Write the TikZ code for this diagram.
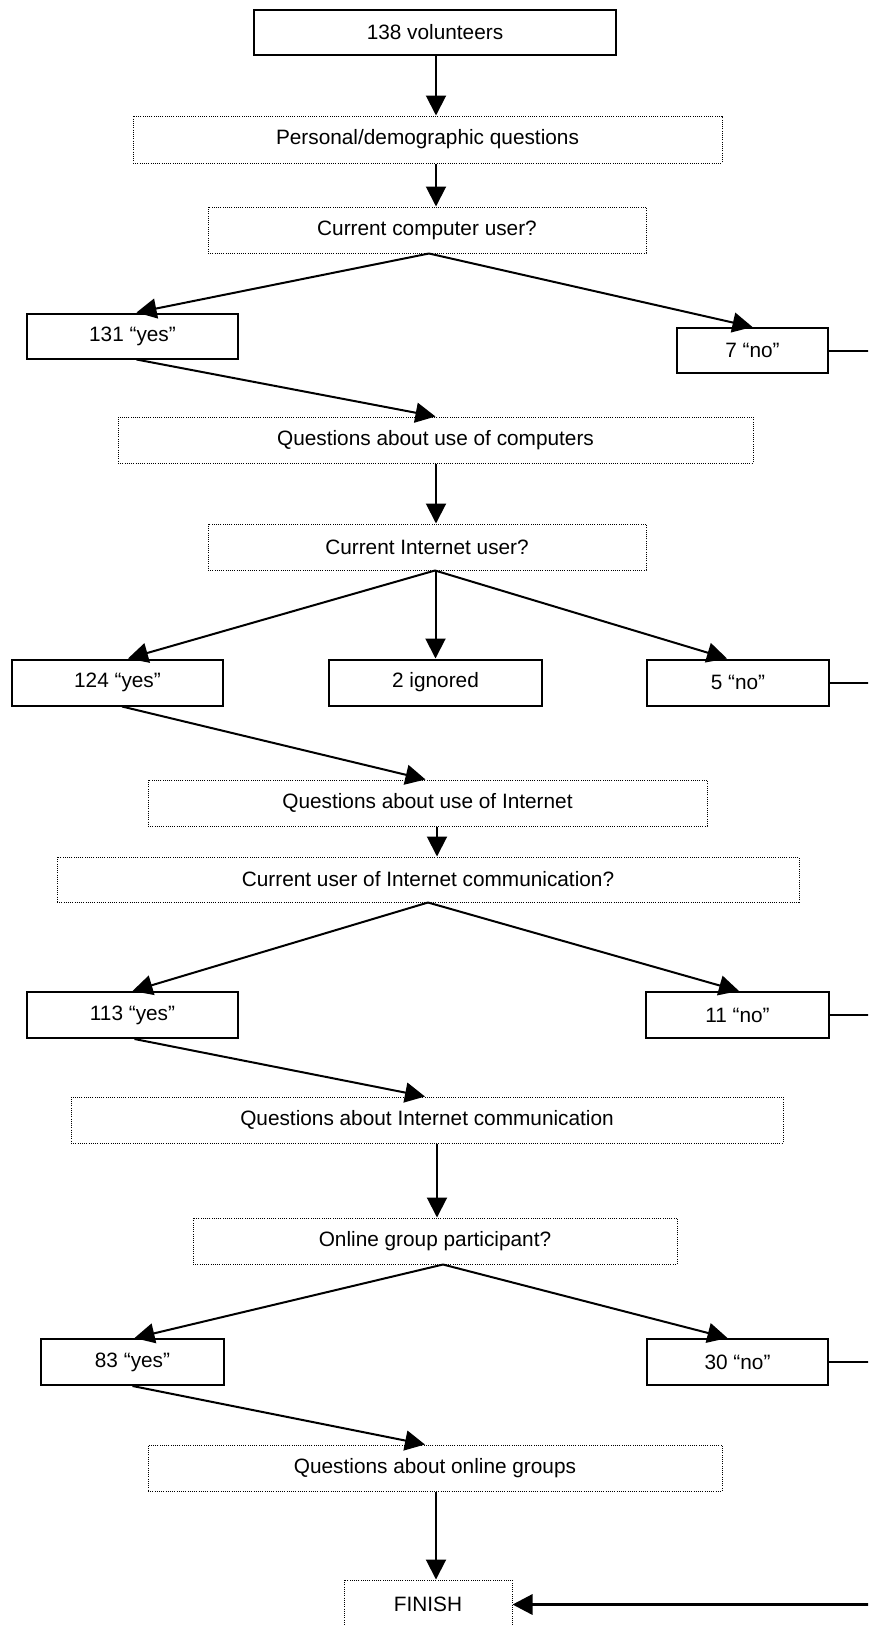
\documentclass[tikz,border=0pt]{standalone}
\usepackage{fontspec}
\setmainfont{Liberation Sans}
\usetikzlibrary{arrows.meta}
\begin{document}
\begin{tikzpicture}[x=1pt,y=-1pt,
  font=\fontsize{20.8}{25}\selectfont,
  sbox/.style={draw, line width=2pt, inner sep=0pt, minimum height=45pt},
  dbox/.style={draw, line width=1pt, dash pattern=on 1pt off 1.2pt, inner sep=0pt, minimum height=46pt},
  arr/.style={line width=2pt, -{Triangle[width=20pt,length=20pt]}},
  thickarr/.style={line width=3.3pt, -{Triangle[width=20pt,length=20pt]}},
  side/.style={line width=2pt}]
\useasboundingbox (0,0) rectangle (868,1625);
\clip (0,0) rectangle (868,1625);
\coordinate (redge) at (872,0);
% nodes
\node[sbox, minimum width=362pt] (v) at (435,32.5) {138 volunteers};
\node[dbox, minimum width=589pt, minimum height=47pt] (pd) at (427.5,139.5) {Personal/demographic questions};
\node[dbox, minimum width=438pt] (ccu) at (427,230) {Current computer user?};
\node[sbox, minimum width=211pt] (y1) at (132.5,336) {131 \textquotedblleft yes\textquotedblright};
\node[sbox, minimum width=151pt] (n1) at (752.5,350.5) {7 \textquotedblleft no\textquotedblright};
\node[dbox, minimum width=635pt] (quc) at (435.5,440) {Questions about use of computers};
\node[dbox, minimum width=438pt] (ciu) at (427,547) {Current Internet user?};
\node[sbox, minimum width=211pt, minimum height=46pt] (y2) at (117.5,682.5) {124 \textquotedblleft yes\textquotedblright};
\node[sbox, minimum width=213pt, minimum height=46pt] (ign) at (435.5,682.5) {2 ignored};
\node[sbox, minimum width=182pt, minimum height=46pt] (n2) at (738,682.5) {5 \textquotedblleft no\textquotedblright};
\node[dbox, minimum width=559pt] (qui) at (427.5,803) {Questions about use of Internet};
\node[dbox, minimum width=742pt, minimum height=45pt] (cuic) at (428,879.5) {Current user of Internet communication?};
\node[sbox, minimum width=211pt, minimum height=46pt] (y3) at (132.5,1015) {113 \textquotedblleft yes\textquotedblright};
\node[sbox, minimum width=183pt, minimum height=46pt] (n3) at (737.5,1015) {11 \textquotedblleft no\textquotedblright};
\node[dbox, minimum width=712pt] (qic) at (427,1120) {Questions about Internet communication};
\node[dbox, minimum width=484pt] (ogp) at (435,1241) {Online group participant?};
\node[sbox, minimum width=183pt, minimum height=46pt] (y4) at (132.5,1362) {83 \textquotedblleft yes\textquotedblright};
\node[sbox, minimum width=181pt, minimum height=46pt] (n4) at (737.5,1362) {30 \textquotedblleft no\textquotedblright};
\node[dbox, minimum width=574pt] (qog) at (435,1468) {Questions about online groups};
\node[dbox, minimum width=168pt, minimum height=49pt] (fin) at (428,1604.5) {FINISH};
% connectors
\draw[arr] ([xshift=1pt]v.south) -- ([xshift=1pt]v.south |- pd.north);
\draw[arr] ([xshift=1pt]v.south |- pd.south) -- ([xshift=1pt]v.south |- ccu.north);
\draw[arr] ([xshift=2pt]ccu.south) -- ([xshift=4pt]y1.north);
\draw[arr] ([xshift=2pt]ccu.south) -- (n1.north);
\draw[arr] ([xshift=4pt]y1.south) -- (quc.north);
\draw[side] (n1.east) -- (n1.east -| redge);
\draw[arr] ([xshift=0.5pt]quc.south) -- ([xshift=0.5pt]quc.south |- ciu.north);
\draw[arr] ([xshift=8pt]ciu.south) -- ([xshift=10.5pt]y2.north);
\draw[arr] (ign.north |- ciu.south) -- (ign.north);
\draw[arr] ([xshift=8pt]ciu.south) -- ([xshift=-11pt]n2.north);
\draw[side] (n2.east) -- (n2.east -| redge);
\draw[arr] ([xshift=4.5pt]y2.south) -- ([xshift=-2pt]qui.north);
\draw[arr] ([xshift=9.5pt]qui.south) -- ([xshift=9.5pt]qui.south |- cuic.north);
\draw[arr] (cuic.south) -- (y3.north);
\draw[arr] (cuic.south) -- ([xshift=1.5pt]n3.north);
\draw[side] (n3.east) -- (n3.east -| redge);
\draw[arr] ([xshift=2pt]y3.south) -- ([xshift=-2pt]qic.north);
\draw[arr] ([xshift=10pt]qic.south) -- ([xshift=10pt]qic.south |- ogp.north);
\draw[arr] ([xshift=8pt]ogp.south) -- ([xshift=2pt]y4.north);
\draw[arr] ([xshift=8pt]ogp.south) -- ([xshift=-10pt]n4.north);
\draw[side] (n4.east) -- (n4.east -| redge);
\draw[arr] (y4.south) -- ([xshift=-10pt]qog.north);
\draw[arr] ([xshift=1pt]qog.south) -- ([xshift=1pt]qog.south |- fin.north);
\draw[thickarr] (fin.east -| redge) -- (fin.east);
\end{tikzpicture}
\end{document}
